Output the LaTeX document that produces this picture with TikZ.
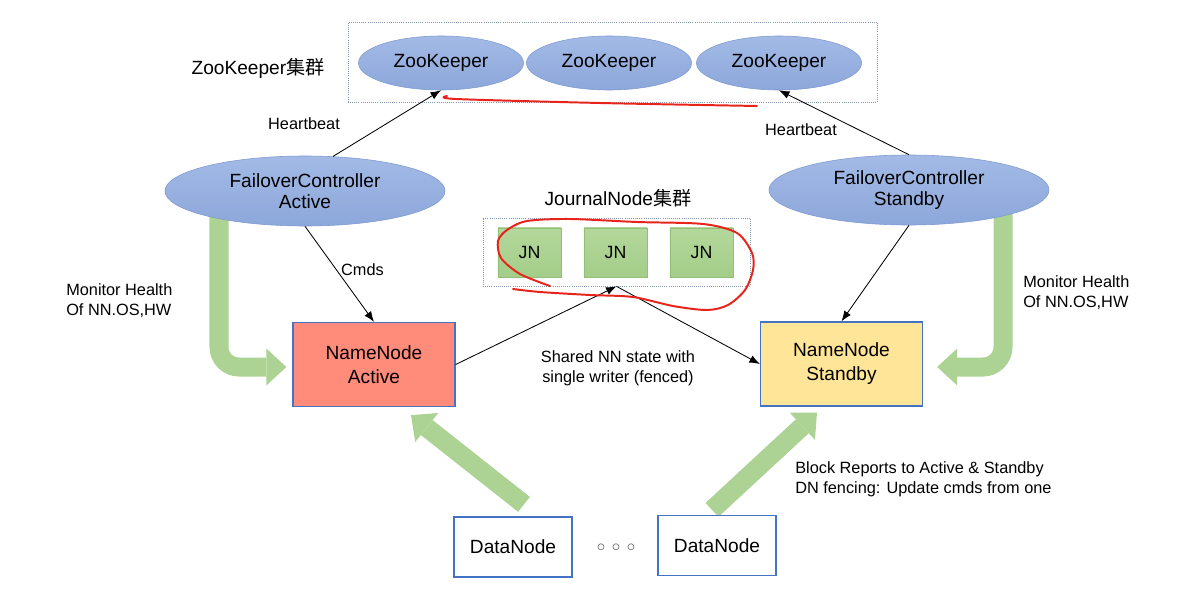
\documentclass[tikz,border=0pt]{standalone}
\usepackage{fontspec}
\setmainfont{Liberation Sans}
\newfontfamily\cjk{Noto Sans CJK SC}
\usetikzlibrary{shapes.geometric,arrows.meta,calc,backgrounds}

\definecolor{zkblue}{HTML}{8CA7DA}
\definecolor{zklight}{HTML}{A3BAE6}
\definecolor{zkedge}{HTML}{7E9AD0}
\definecolor{jngreen}{HTML}{A3CD88}
\definecolor{jnlight}{HTML}{B4D89C}
\definecolor{jnedge}{HTML}{93BE76}
\definecolor{nnred}{HTML}{FF8B7B}
\definecolor{nnyellow}{HTML}{FFE597}
\definecolor{boxblue}{HTML}{4472C4}
\definecolor{dotgray}{HTML}{8497B0}
\definecolor{handred}{HTML}{E8231B}
\definecolor{bandgreen}{HTML}{ADD394}

\newcommand{\bigtxt}{\fontsize{13.6pt}{14.5pt}\selectfont}
\newcommand{\nntxt}{\fontsize{13.6pt}{17pt}\selectfont}
\newcommand{\smalltxt}{\fontsize{11.6pt}{14.2pt}\selectfont}

\tikzset{
  zk/.style={draw=zkedge, ellipse, top color=zklight, bottom color=zkblue,
    minimum width=4.125cm, minimum height=1.35cm, inner sep=0pt, font=\bigtxt},
  fc/.style={zk, minimum width=7cm, minimum height=1.75cm, align=center},
  jn/.style={draw=jnedge, top color=jnlight, bottom color=jngreen,
    minimum width=1.575cm, minimum height=1.225cm, inner sep=0pt,
    font=\fontsize{12.6pt}{14pt}\selectfont},
  nnbox/.style={draw=boxblue, line width=0.9pt, minimum width=4.05cm,
    minimum height=2.1cm, align=center, font=\nntxt},
  dnbox/.style={draw=boxblue, fill=white, line width=0.9pt, minimum width=2.95cm,
    minimum height=1.5cm, font=\bigtxt},
  cluster/.style={draw=dotgray, densely dotted, line width=0.5pt},
  lbl/.style={inner sep=0pt, font=\bigtxt},
  small/.style={inner sep=0pt, font=\smalltxt},
  link/.style={draw, line width=0.6pt, -{Latex[length=2.6mm,width=2mm]}},
  band/.style={draw=bandgreen, line width=0.475cm, rounded corners=0.5cm,
    -{Triangle[length=0.5cm,width=0.925cm,line width=0pt]}},
  redmark/.style={draw=handred, line width=1.4pt, line cap=round, line join=round}
}

\begin{document}
\begin{tikzpicture}[x=0.025cm,y=-0.025cm]
\useasboundingbox (0,0) rectangle (1204,604);

%%%%%%%%%%%%%%%%%ZooKeeper%%%%%%%%%%%%%%
\node[cluster, minimum width=13.225cm, minimum height=2cm] (zkbox) at (612.5,62){};

%ZooKeeper Left
\node[zk] (zka) at (441,63){ZooKeeper};

%ZooKeeper Middle
\node[zk] (zkb) at (609,63){ZooKeeper};

%ZooKeeper Right
\node[zk] (zkc) at (779,63){ZooKeeper};

\node[lbl] (zklabel) at (258,68){ZooKeeper{\cjk 集群}};


%%%%%%%%%%%%%%%%%Failover Controllers%%%%%%%%%%%%%%
\node[fc] (fca) at (305,191){FailoverController\\Active};

\node[fc] (fcs) at (909,190){FailoverController\\Standby};


%%%%%%%%%%%%%%%%%JournalNode%%%%%%%%%%%%%%
\node[cluster, minimum width=6.675cm, minimum height=1.7cm] (jnbox) at (616.5,252){};

\node[jn] (jna) at (529.5,252.5){JN};
\node[jn] (jnb) at (615.5,252.5){JN};
\node[jn] (jnc) at (701.5,252.5){JN};

\node[lbl] (jnlabel) at (618,198){JournalNode{\cjk 集群}};


%%%%%%%%%%%%%%%%%NameNodes%%%%%%%%%%%%%%
\node[nnbox, fill=nnred] (nna) at (374,364.5){NameNode\\Active};

\node[nnbox, fill=nnyellow] (nns) at (841.5,364){NameNode\\Standby};


%%%%%%%%%%%%%%%%%DataNodes%%%%%%%%%%%%%%
\node[dnbox] (dna) at (513,547){DataNode};

\node[dnbox] (dnb) at (717,545.5){DataNode};

\node[font=\smalltxt, text=black!70] (dots) at (616,548){$\circ\,\circ\,\circ$};


%%%%%%%%%%%%%%%%%Connectors%%%%%%%%%%%%%%
\draw[link] (fca.51) -- (zka.south);
\draw[link] (fcs.north) -- (zkc.south);
\draw[link] (fca.south) -- (nna.north) node [pos=0.45, right, font=\smalltxt] (cmds) {Cmds};
\draw[link] (fcs.south) -- (nns.north);
\draw[link] (nna.east) -- (jnbox.south);
\draw[link] (jnbox.south) -- (nns.west);

\begin{scope}[on background layer]
\draw[band] ($(fca.center)+(-86,0)$) |- ($(nna.west)+(-6,2.5)$);
\draw[band] ($(fcs.center)+(94,0)$) |- ($(nns.east)+(14,3)$);
\draw[band] ($(dna.north)+(11,-12)$) -- ($(nna.south)+(37,8)$);
\draw[band] ($(dnb.north)+(-5,-5)$) -- ($(nns.south)+(-24.5,6)$);
\end{scope}


%%%%%%%%%%%%%%%%%Labels%%%%%%%%%%%%%%
\node[small] (hbl) at (304,124){Heartbeat};
\node[small] (hbr) at (801,130){Heartbeat};

\node[small, align=left, anchor=west] (mhl) at (66,301){Monitor Health\\Of NN.OS,HW};
\node[small, align=left, anchor=west] (mhr) at (1023,293){Monitor Health\\Of NN.OS,HW};

\node[small, align=center] (shared) at (618,368){Shared NN state with\\single writer (fenced)};

\node[small, align=left, anchor=west] (blk) at (795,479){Block Reports to Active \& Standby\\DN fencing: Update cmds from one};


%%%%%%%%%%%%%%%%%Red marks%%%%%%%%%%%%%%
\draw[redmark] plot[smooth] coordinates {(447,96) (456,99) (600,103) (757,106)};
\draw[redmark] plot[smooth] coordinates {(550,286) (520,274) (501,258) (498,241) (507,230)
  (527,221) (570,219) (637,222) (703,224) (737,233) (752,253) (753,270) (745,290)
  (728,305) (707,310) (673,306) (633,297) (590,295) (540,292) (513,289)};

\end{tikzpicture}
\end{document}
